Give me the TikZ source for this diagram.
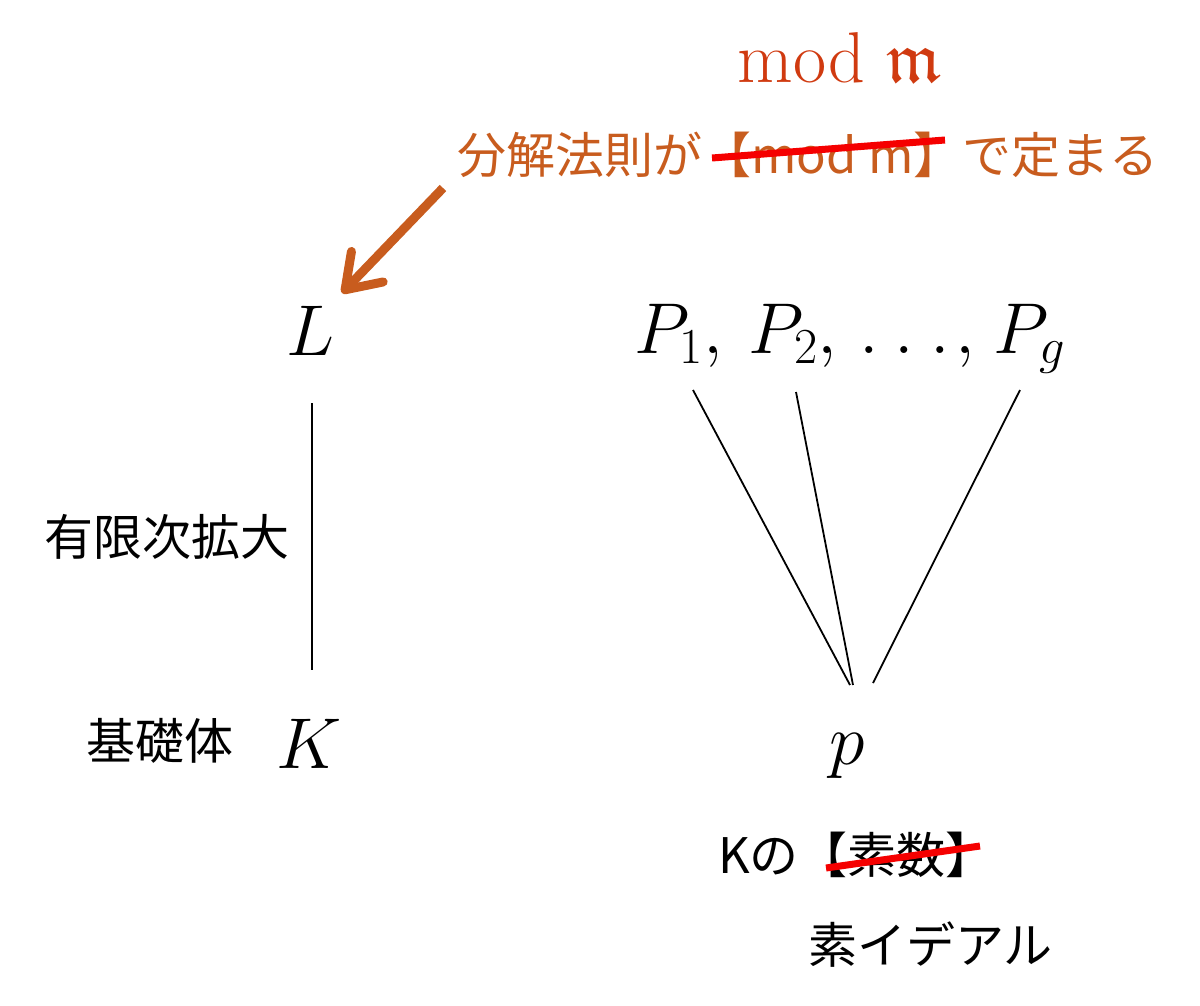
\documentclass[tikz,border=0pt]{standalone}
\usepackage{fix-cm}
\usepackage{fontspec}
\usepackage{amssymb}
\newfontfamily\jp{Noto Sans CJK JP}
\usetikzlibrary{arrows.meta}
\definecolor{org}{RGB}{200,92,30}
\definecolor{modred}{RGB}{208,58,16}
\definecolor{strk}{RGB}{245,0,0}
\begin{document}
\begin{tikzpicture}[x=1pt,y=-1pt,
  mathtxt/.style={font=\fontsize{72}{86}\selectfont, inner sep=0, anchor=base},
  jtext/.style={font=\jp\fontsize{49}{56}\selectfont, inner sep=0},
  conn/.style={draw=black, line width=1.8pt},
  strike/.style={draw=strk, line width=7pt}]
\useasboundingbox (0,0) rectangle (1200,1005);
% top label
\node[font=\fontsize{72}{84}\selectfont, text=modred, inner sep=0] (mod) at (840,58) {mod $\mathfrak{m}$};
\node[jtext, text=org] (rule) at (808,155) {分解法則が【mod m】で定まる};
% math nodes
\node[mathtxt] (L) at (310,355) {$L$};
\node[mathtxt] (K) at (309,768) {$K$};
\node[mathtxt, anchor=base west] (P) at (634,353) {$P_1{,}\mkern6.5mu P_2{,}\mkern5.5mu{.}\mkern4mu{.}\mkern4mu{.}\mkern1.5mu{,}\mkern4.5mu P_g$};
\node[mathtxt] (p) at (847,764) {$p$};
% Japanese labels
\node[jtext] (ext) at (167,537) {有限次拡大};
\node[jtext] (base) at (160,741) {基礎体};
\node[jtext, anchor=west] (Kno) at (718,855) {Kの【素数】};
\node[jtext, anchor=west] (prime) at (808,945) {素イデアル};
% connectors
\coordinate (Lb) at (312,403);
\coordinate (Kt) at (312,670);
\draw[conn] (Lb) -- (Kt);
\coordinate (P1) at (693,390);
\coordinate (P2) at (796,392);
\coordinate (Pg) at (1020,390);
\coordinate (p1) at (850,685);
\coordinate (p2) at (853,685);
\coordinate (pg) at (873,683);
\draw[conn] (P1) -- (p1);
\draw[conn] (P2) -- (p2);
\draw[conn] (Pg) -- (pg);
% arrow
\coordinate (a1) at (443,188);
\coordinate (a2) at (342,293);
\draw[draw=org, line width=9pt, -{Straight Barb[round,length=32pt,width=44pt]}] (a1) -- (a2);
% strikes
\coordinate (s1) at (712,158);
\coordinate (s2) at (945,140);
\draw[strike] (s1) -- (s2);
\coordinate (t1) at (826,868);
\coordinate (t2) at (980,846);
\draw[strike] (t1) -- (t2);
\end{tikzpicture}
\end{document}
